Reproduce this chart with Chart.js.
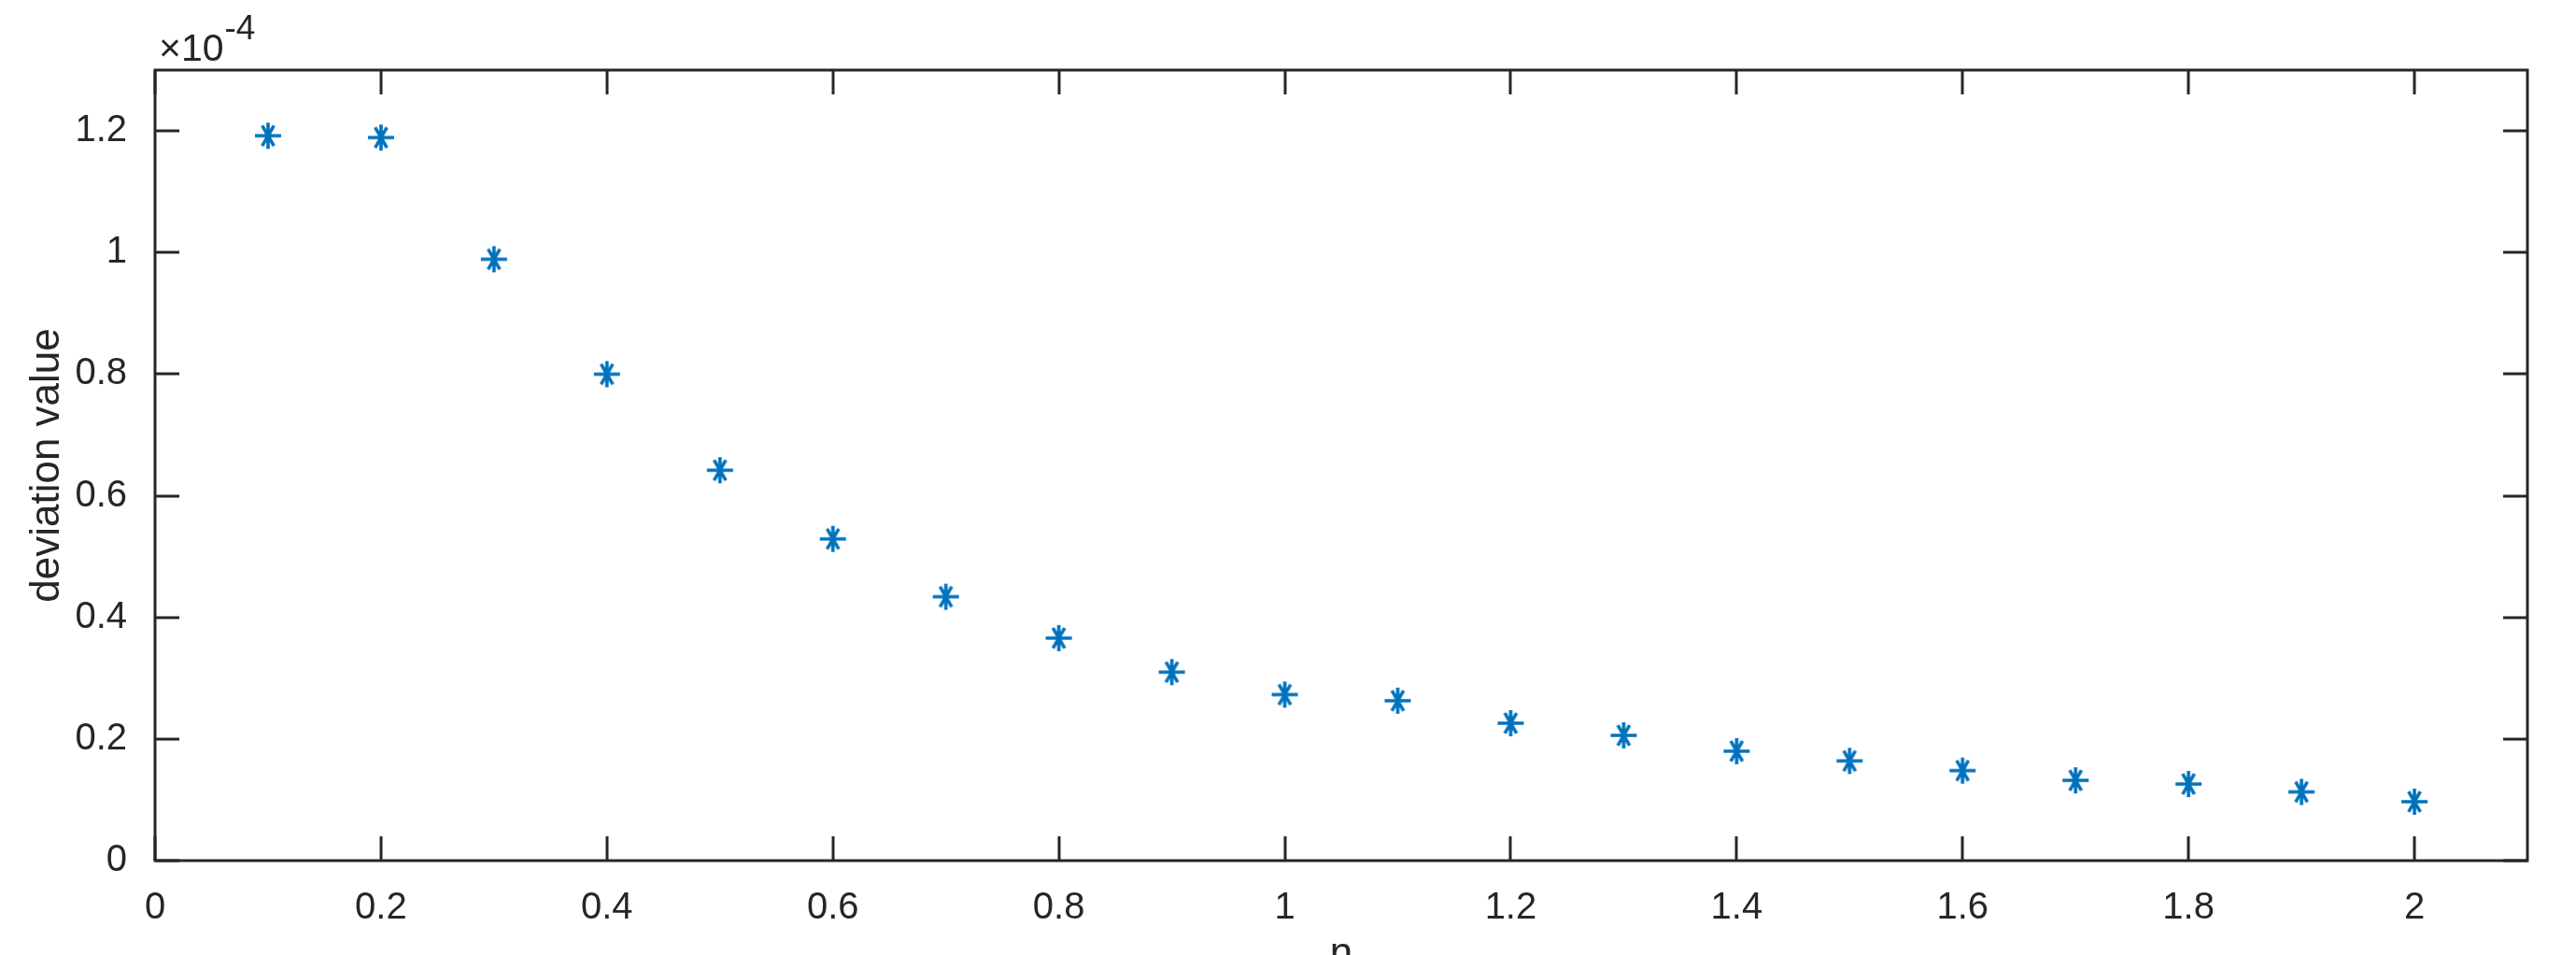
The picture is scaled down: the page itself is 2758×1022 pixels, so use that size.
<!DOCTYPE html>
<html>
<head>
<meta charset="utf-8">
<script src="https://cdn.jsdelivr.net/npm/chart.js@4.4.1/dist/chart.umd.min.js"></script>
<style>
    html, body { margin: 0; padding: 0; background: #fff; overflow: hidden; }
    #wrap { width: 2758px; height: 1060px; }
</style>
</head>
<body>
<div id="wrap"><canvas id="chart" width="2758" height="1060"></canvas></div>
<script>
// data, y values are in units of 1e-4
const nValues = [0.1, 0.2, 0.3, 0.4, 0.5, 0.6, 0.7, 0.8, 0.9, 1.0,
                 1.1, 1.2, 1.3, 1.4, 1.5, 1.6, 1.7, 1.8, 1.9, 2.0];
const deviationValues = [1.192, 1.189, 0.989, 0.800, 0.642, 0.529, 0.434, 0.366, 0.310, 0.273,
                         0.263, 0.226, 0.206, 0.180, 0.164, 0.148, 0.132, 0.126, 0.113, 0.097];
const yExponent = '-4';
const xLabel = 'n';
const yLabel = 'deviation value';

const axisColor = '#262626';
const markerColor = '#0072BD';
const fontFamily = 'Arial, "Liberation Sans", Helvetica, sans-serif';

// MATLAB style asterisk marker
function makeAsterisk(size, color, lw) {
    const c = document.createElement('canvas');
    c.width = size;
    c.height = size;
    const g = c.getContext('2d');
    const r = size / 2 - 1;
    const m = size / 2;
    g.strokeStyle = color;
    g.lineWidth = lw;
    g.beginPath();
    g.moveTo(m - r, m); g.lineTo(m + r, m);
    g.moveTo(m, m - r); g.lineTo(m, m + r);
    const a = Math.PI / 3;
    const dx = Math.cos(a) * r * 0.9, dy = Math.sin(a) * r * 0.9;
    g.moveTo(m - dx, m - dy); g.lineTo(m + dx, m + dy);
    g.moveTo(m + dx, m - dy); g.lineTo(m - dx, m + dy);
    g.stroke();
    return c;
}

// box + inward ticks + exponent label
const framePlugin = {
    id: 'frame',
    afterDraw(chart) {
        const { ctx, chartArea: a, scales } = chart;
        const tl = 26;
        ctx.save();
        ctx.strokeStyle = axisColor;
        ctx.lineWidth = 3;
        ctx.strokeRect(a.left, a.top, a.right - a.left, a.bottom - a.top);
        ctx.beginPath();
        scales.x.ticks.forEach(t => {
            const px = Math.round(scales.x.getPixelForValue(t.value));
            ctx.moveTo(px, a.bottom); ctx.lineTo(px, a.bottom - tl);
            ctx.moveTo(px, a.top); ctx.lineTo(px, a.top + tl);
        });
        scales.y.ticks.forEach(t => {
            const py = Math.round(scales.y.getPixelForValue(t.value));
            ctx.moveTo(a.left, py); ctx.lineTo(a.left + tl, py);
            ctx.moveTo(a.right, py); ctx.lineTo(a.right - tl, py);
        });
        ctx.stroke();

        ctx.fillStyle = axisColor;
        ctx.textBaseline = 'alphabetic';
        ctx.textAlign = 'left';
        ctx.font = '41px ' + fontFamily;
        const base = '\u00d710';
        ctx.fillText(base, a.left + 4, a.top - 10);
        const w = ctx.measureText(base).width;
        ctx.font = '37px ' + fontFamily;
        ctx.fillText(yExponent, a.left + 4 + w + 1, a.top - 33);
        ctx.restore();
    }
};

const fmt = v => String(Number(v.toFixed(1)));

new Chart(document.getElementById('chart'), {
    type: 'scatter',
    data: {
        datasets: [{
            data: nValues.map((n, i) => ({ x: n, y: deviationValues[i] })),
            pointStyle: makeAsterisk(30, markerColor, 3.6),
            pointRadius: 15,
            pointHoverRadius: 15
        }]
    },
    options: {
        responsive: false,
        animation: false,
        devicePixelRatio: 1,
        layout: { padding: { top: 75, right: 52, left: 0, bottom: 0 } },
        plugins: { legend: { display: false }, tooltip: { enabled: false } },
        scales: {
            x: {
                type: 'linear',
                min: 0,
                max: 2.1,
                grid: { display: false },
                border: { display: false },
                ticks: {
                    stepSize: 0.2,
                    includeBounds: false,
                    autoSkip: false,
                    maxRotation: 0,
                    padding: 19,
                    color: axisColor,
                    font: { family: fontFamily, size: 40 },
                    callback: fmt
                },
                title: {
                    display: true,
                    text: xLabel,
                    color: axisColor,
                    font: { family: fontFamily, size: 44 },
                    padding: { top: 0, bottom: 12 }
                },
                afterFit: s => { s.height = 1060 - 921; }
            },
            y: {
                type: 'linear',
                min: 0,
                max: 1.3,
                grid: { display: false },
                border: { display: false },
                ticks: {
                    stepSize: 0.2,
                    includeBounds: false,
                    padding: 22,
                    color: axisColor,
                    font: { family: fontFamily, size: 40 },
                    callback: fmt
                },
                title: {
                    display: true,
                    text: yLabel,
                    color: axisColor,
                    font: { family: fontFamily, size: 44 },
                    padding: { top: 24, bottom: 0 }
                },
                afterFit: s => { s.width = 166; }
            }
        }
    },
    plugins: [framePlugin]
});
</script>
</body>
</html>
